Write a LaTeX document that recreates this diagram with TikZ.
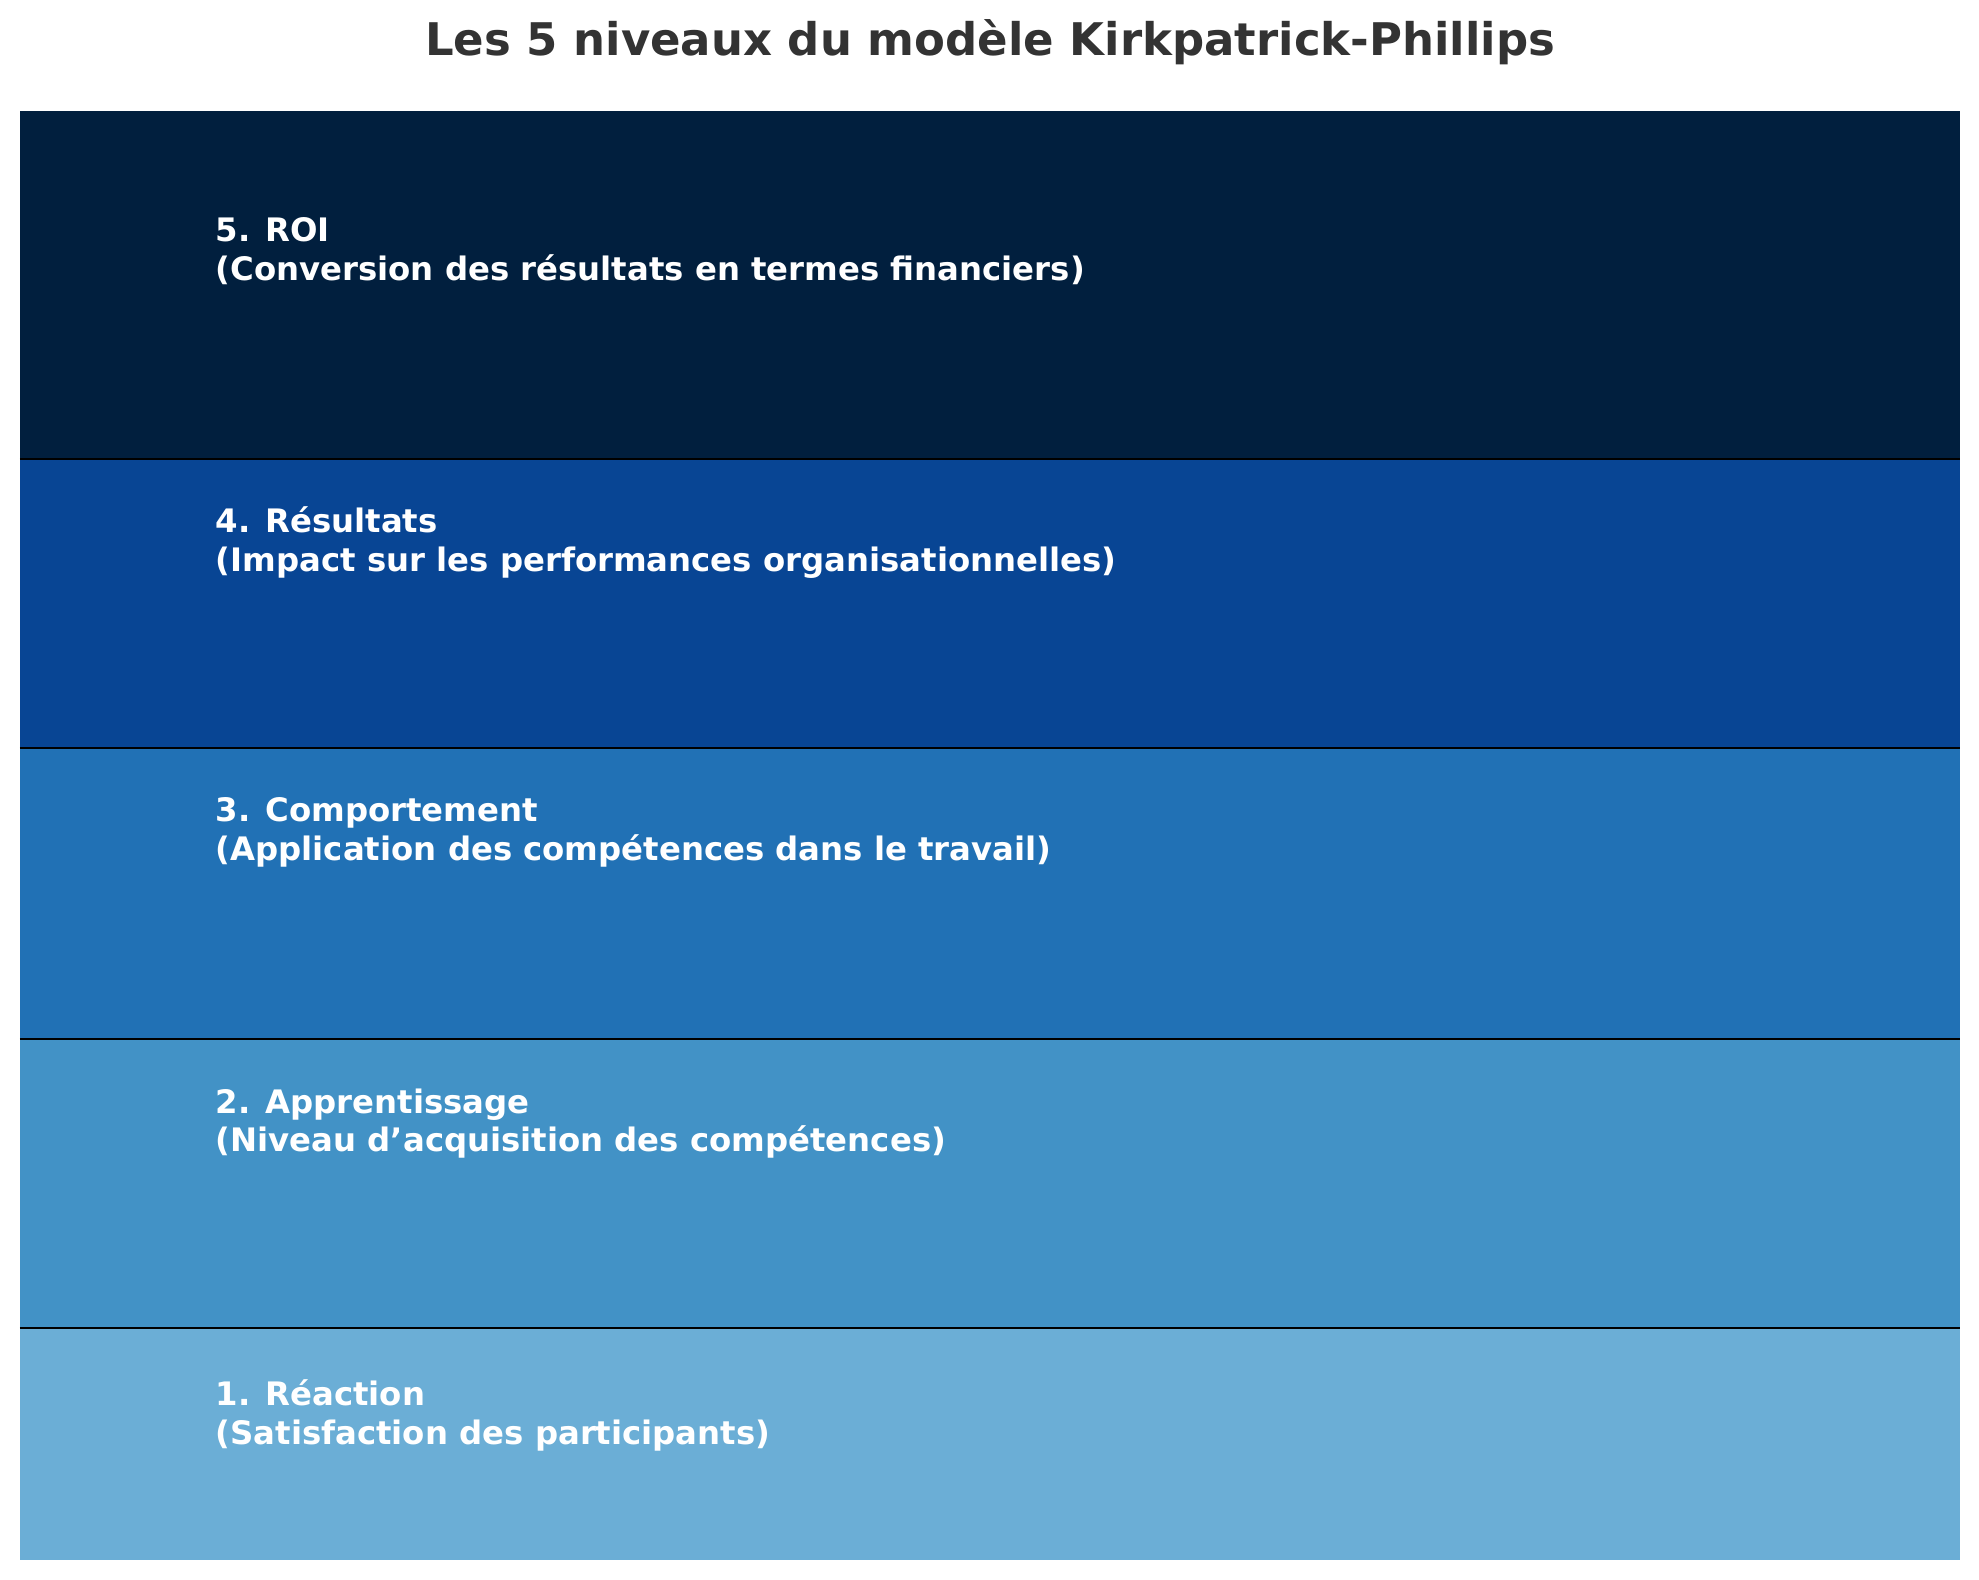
\documentclass[tikz,border=0pt]{standalone}
\usepackage{fontspec}
\setmainfont{DejaVu Sans}
\definecolor{c5}{HTML}{011F3E}
\definecolor{c4}{HTML}{084594}
\definecolor{c3}{HTML}{2171B5}
\definecolor{c2}{HTML}{4292C6}
\definecolor{c1}{HTML}{6BAED6}
\definecolor{titlec}{HTML}{333333}
\begin{document}
\begin{tikzpicture}[yscale=-1,
  bar/.style={draw=black, line width=0.8pt},
  lbl/.style={anchor=north west, text=white, font=\bfseries\fontsize{9.2}{11}\selectfont, align=left, inner sep=0pt}]
\useasboundingbox (0,0) rectangle (19.79,15.80);
\fill[white] (0,0) rectangle (19.79,15.80);
\node[font=\bfseries\fontsize{12.8}{15}\selectfont, text=titlec] (title) at (9.9,0.42) {Les 5 niveaux du modèle Kirkpatrick-Phillips};
\fill[c1] (0.20,13.28) rectangle (19.60,15.60);
\fill[c2] (0.20,10.39) rectangle (19.60,13.28);
\fill[c3] (0.20,7.48) rectangle (19.60,10.39);
\fill[c4] (0.20,4.59) rectangle (19.60,7.48);
\fill[c5] (0.20,1.11) rectangle (19.60,4.59);
\foreach \y in {4.59,7.48,10.39,13.28} \draw[bar] (0.20,\y) -- (19.60,\y);
\node[lbl] (l5) at (2.15,2.17) {5. ROI\\(Conversion des résultats en termes financiers)};
\node[lbl] (l4) at (2.15,5.06) {4. Résultats\\(Impact sur les performances organisationnelles)};
\node[lbl] (l3) at (2.15,7.97) {3. Comportement\\(Application des compétences dans le travail)};
\node[lbl] (l2) at (2.15,10.88) {2. Apprentissage\\(Niveau d’acquisition des compétences)};
\node[lbl] (l1) at (2.15,13.79) {1. Réaction\\(Satisfaction des participants)};
\end{tikzpicture}
\end{document}
